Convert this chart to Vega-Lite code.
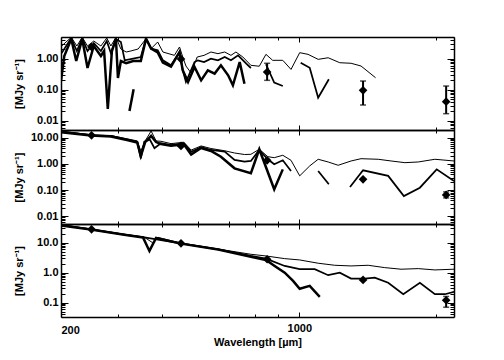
{
  "$schema": "https://vega.github.io/schema/vega-lite/v6.json",
  "padding": {"left": 12, "top": 36, "right": 50, "bottom": 4},
  "background": "white",
  "spacing": 0,
  "bounds": "flush",
  "datasets": {
    "top_lines": [
      {"series":"model","seg":"m1","w":301,"v":1.52},{"series":"model","seg":"m1","w":316,"v":4.64},{"series":"model","seg":"m1","w":325,"v":1.77},{"series":"model","seg":"m1","w":334,"v":4.64},{"series":"model","seg":"m1","w":343,"v":1.77},{"series":"model","seg":"m1","w":354,"v":3.2},{"series":"model","seg":"m1","w":367,"v":1.77},{"series":"model","seg":"m1","w":378,"v":3.71},{"series":"model","seg":"m1","w":386,"v":1.52},{"series":"model","seg":"m1","w":396,"v":4.31},{"series":"model","seg":"m1","w":406,"v":3.45},{"series":"model","seg":"m1","w":414,"v":0.885},{"series":"model","seg":"m1","w":432,"v":1.0},{"series":"model","seg":"m1","w":449,"v":1.13},{"series":"model","seg":"m1","w":461,"v":4.41},{"series":"model","seg":"m1","w":473,"v":2.1},{"series":"model","seg":"m1","w":489,"v":1.86},{"series":"model","seg":"m1","w":502,"v":0.885},{"series":"model","seg":"m1","w":523,"v":0.61},{"series":"model","seg":"m1","w":546,"v":1.64},{"series":"model","seg":"m1","w":555,"v":0.42},{"series":"model","seg":"m1","w":564,"v":0.177},{"series":"model","seg":"m1","w":589,"v":0.78},{"series":"model","seg":"m1","w":599,"v":0.885},{"series":"model","seg":"m1","w":618,"v":0.78},{"series":"model","seg":"m1","w":640,"v":1.0},{"series":"model","seg":"m1","w":663,"v":0.885},{"series":"model","seg":"m1","w":686,"v":1.13},{"series":"model","seg":"m1","w":708,"v":0.885},{"series":"model","seg":"m1","w":734,"v":1.28},{"series":"model","seg":"m1","w":765,"v":0.69},{"series":"model","seg":"m1","w":783,"v":0.5},
      {"series":"model","seg":"m2","w":845,"v":0.66},{"series":"model","seg":"m2","w":881,"v":0.168},{"series":"model","seg":"m2","w":920,"v":0.131},
      {"series":"model","seg":"m3","w":1007,"v":0.74},{"series":"model","seg":"m3","w":1054,"v":0.51},{"series":"model","seg":"m3","w":1100,"v":0.055},{"series":"model","seg":"m3","w":1161,"v":0.216},
      {"series":"upper","seg":"u1","w":301,"v":2.56},{"series":"upper","seg":"u1","w":316,"v":4.9},{"series":"upper","seg":"u1","w":325,"v":2.56},{"series":"upper","seg":"u1","w":334,"v":4.9},{"series":"upper","seg":"u1","w":343,"v":2.56},{"series":"upper","seg":"u1","w":354,"v":3.71},{"series":"upper","seg":"u1","w":367,"v":2.56},{"series":"upper","seg":"u1","w":378,"v":4.64},{"series":"upper","seg":"u1","w":386,"v":2.56},{"series":"upper","seg":"u1","w":396,"v":4.9},{"series":"upper","seg":"u1","w":406,"v":2.05},{"series":"upper","seg":"u1","w":417,"v":1.64},{"series":"upper","seg":"u1","w":427,"v":1.77},{"series":"upper","seg":"u1","w":443,"v":2.05},{"series":"upper","seg":"u1","w":461,"v":4.41},{"series":"upper","seg":"u1","w":473,"v":2.1},{"series":"upper","seg":"u1","w":489,"v":3.45},{"series":"upper","seg":"u1","w":502,"v":1.64},{"series":"upper","seg":"u1","w":532,"v":1.28},{"series":"upper","seg":"u1","w":546,"v":2.38},{"series":"upper","seg":"u1","w":555,"v":1.13},{"series":"upper","seg":"u1","w":564,"v":0.58},{"series":"upper","seg":"u1","w":579,"v":0.345},{"series":"upper","seg":"u1","w":597,"v":1.13},{"series":"upper","seg":"u1","w":618,"v":1.28},{"series":"upper","seg":"u1","w":640,"v":1.64},{"series":"upper","seg":"u1","w":663,"v":1.45},{"series":"upper","seg":"u1","w":686,"v":1.64},{"series":"upper","seg":"u1","w":708,"v":1.28},{"series":"upper","seg":"u1","w":726,"v":1.64},{"series":"upper","seg":"u1","w":752,"v":1.13},{"series":"upper","seg":"u1","w":783,"v":0.61},{"series":"upper","seg":"u1","w":817,"v":0.57},{"series":"upper","seg":"u1","w":845,"v":1.38},{"series":"upper","seg":"u1","w":874,"v":0.885},{"series":"upper","seg":"u1","w":920,"v":0.885},{"series":"upper","seg":"u1","w":959,"v":0.45},{"series":"upper","seg":"u1","w":1002,"v":1.56},{"series":"upper","seg":"u1","w":1045,"v":1.38},{"series":"upper","seg":"u1","w":1100,"v":0.95},{"series":"upper","seg":"u1","w":1157,"v":1.07},{"series":"upper","seg":"u1","w":1227,"v":0.74},{"series":"upper","seg":"u1","w":1299,"v":0.71},{"series":"upper","seg":"u1","w":1366,"v":0.58},{"series":"upper","seg":"u1","w":1470,"v":0.243},
      {"series":"lower","seg":"l1","w":300,"v":0.19},{"series":"lower","seg":"l1","w":305,"v":1.22},{"series":"lower","seg":"l1","w":316,"v":4.31},{"series":"lower","seg":"l1","w":324,"v":0.84},{"series":"lower","seg":"l1","w":334,"v":4.31},{"series":"lower","seg":"l1","w":343,"v":0.5},{"series":"lower","seg":"l1","w":354,"v":2.56},{"series":"lower","seg":"l1","w":367,"v":1.22},{"series":"lower","seg":"l1","w":373,"v":1.77},{"series":"lower","seg":"l1","w":380,"v":0.0238},{"series":"lower","seg":"l1","w":388,"v":1.77},{"series":"lower","seg":"l1","w":396,"v":4.31},{"series":"lower","seg":"l1","w":400,"v":0.238},{"series":"lower","seg":"l1","w":406,"v":0.84},{"series":"lower","seg":"l1","w":417,"v":0.72},{"series":"lower","seg":"l1","w":432,"v":0.84},{"series":"lower","seg":"l1","w":449,"v":0.84},{"series":"lower","seg":"l1","w":461,"v":4.41},{"series":"lower","seg":"l1","w":473,"v":2.1},{"series":"lower","seg":"l1","w":489,"v":1.6},{"series":"lower","seg":"l1","w":502,"v":0.75},{"series":"lower","seg":"l1","w":523,"v":0.55},{"series":"lower","seg":"l1","w":546,"v":1.64},{"series":"lower","seg":"l1","w":555,"v":0.42},{"series":"lower","seg":"l1","w":570,"v":0.177},{"series":"lower","seg":"l1","w":589,"v":0.54},{"series":"lower","seg":"l1","w":609,"v":0.2},{"series":"lower","seg":"l1","w":630,"v":0.42},{"series":"lower","seg":"l1","w":652,"v":0.33},{"series":"lower","seg":"l1","w":673,"v":0.61},{"series":"lower","seg":"l1","w":698,"v":0.29},{"series":"lower","seg":"l1","w":715,"v":0.138},{"series":"lower","seg":"l1","w":740,"v":0.78},{"series":"lower","seg":"l1","w":758,"v":0.156},
      {"series":"lower","seg":"l2","w":424,"v":0.0205},{"series":"lower","seg":"l2","w":433,"v":0.103}
    ],
    "top_pts": [
      {"w":350,"v":2.38},{"w":550,"v":0.97},{"w":850,"v":0.37,"lo":0.2,"hi":0.71},{"w":1380,"v":0.095,"lo":0.032,"hi":0.19},{"w":2100,"v":0.041,"lo":0.0168,"hi":0.131}
    ],
    "mid_lines": [
      {"series":"model","seg":"m1","w":300,"v":17.3},{"series":"model","seg":"m1","w":349,"v":12.8},{"series":"model","seg":"m1","w":360,"v":11.6},{"series":"model","seg":"m1","w":386,"v":11.8},{"series":"model","seg":"m1","w":421,"v":8.6},{"series":"model","seg":"m1","w":441,"v":7.1},{"series":"model","seg":"m1","w":449,"v":1.65},{"series":"model","seg":"m1","w":457,"v":7.1},{"series":"model","seg":"m1","w":470,"v":8.5},{"series":"model","seg":"m1","w":481,"v":4.0},{"series":"model","seg":"m1","w":497,"v":6.2},{"series":"model","seg":"m1","w":523,"v":5.3},{"series":"model","seg":"m1","w":558,"v":6.2},{"series":"model","seg":"m1","w":579,"v":2.9},{"series":"model","seg":"m1","w":609,"v":4.4},{"series":"model","seg":"m1","w":640,"v":3.43},{"series":"model","seg":"m1","w":686,"v":2.95},{"series":"model","seg":"m1","w":721,"v":1.42},{"series":"model","seg":"m1","w":758,"v":1.22},{"series":"model","seg":"m1","w":783,"v":1.3},{"series":"model","seg":"m1","w":817,"v":3.43},{"series":"model","seg":"m1","w":853,"v":1.51},{"series":"model","seg":"m1","w":881,"v":0.97},{"series":"model","seg":"m1","w":920,"v":1.38},{"series":"model","seg":"m1","w":959,"v":0.54},
      {"series":"model","seg":"m2","w":1100,"v":0.54},{"series":"model","seg":"m2","w":1161,"v":0.166},
      {"series":"model","seg":"m3","w":1292,"v":0.131},{"series":"model","seg":"m3","w":1380,"v":0.57},{"series":"model","seg":"m3","w":1567,"v":0.35},{"series":"model","seg":"m3","w":1696,"v":0.059},{"series":"model","seg":"m3","w":1839,"v":0.123},{"series":"model","seg":"m3","w":2002,"v":0.62},{"series":"model","seg":"m3","w":2185,"v":0.22},
      {"series":"upper","seg":"u1","w":300,"v":18},{"series":"upper","seg":"u1","w":349,"v":13.2},{"series":"upper","seg":"u1","w":386,"v":12.3},{"series":"upper","seg":"u1","w":421,"v":9.0},{"series":"upper","seg":"u1","w":441,"v":7.6},{"series":"upper","seg":"u1","w":449,"v":3.14},{"series":"upper","seg":"u1","w":459,"v":7.6},{"series":"upper","seg":"u1","w":473,"v":18.3},{"series":"upper","seg":"u1","w":485,"v":7.6},{"series":"upper","seg":"u1","w":497,"v":7.4},{"series":"upper","seg":"u1","w":523,"v":6.0},{"series":"upper","seg":"u1","w":558,"v":6.8},{"series":"upper","seg":"u1","w":579,"v":3.4},{"series":"upper","seg":"u1","w":609,"v":4.9},{"series":"upper","seg":"u1","w":640,"v":3.9},{"series":"upper","seg":"u1","w":686,"v":3.2},{"series":"upper","seg":"u1","w":721,"v":2.63},{"series":"upper","seg":"u1","w":758,"v":2.3},{"series":"upper","seg":"u1","w":783,"v":2.34},{"series":"upper","seg":"u1","w":817,"v":3.65},{"series":"upper","seg":"u1","w":853,"v":1.9},{"series":"upper","seg":"u1","w":881,"v":1.74},{"series":"upper","seg":"u1","w":920,"v":2.15},{"series":"upper","seg":"u1","w":959,"v":1.38},{"series":"upper","seg":"u1","w":1002,"v":0.35},{"series":"upper","seg":"u1","w":1054,"v":0.84},{"series":"upper","seg":"u1","w":1100,"v":1.51},{"series":"upper","seg":"u1","w":1157,"v":1.19},{"series":"upper","seg":"u1","w":1217,"v":0.89},{"series":"upper","seg":"u1","w":1299,"v":1.3},{"series":"upper","seg":"u1","w":1366,"v":1.59},{"series":"upper","seg":"u1","w":1490,"v":1.51},{"series":"upper","seg":"u1","w":1590,"v":1.3},{"series":"upper","seg":"u1","w":1705,"v":1.12},{"series":"upper","seg":"u1","w":1824,"v":1.19},{"series":"upper","seg":"u1","w":1984,"v":1.51},{"series":"upper","seg":"u1","w":2185,"v":1.3},
      {"series":"lower","seg":"l1","w":300,"v":16.4},{"series":"lower","seg":"l1","w":349,"v":12.2},{"series":"lower","seg":"l1","w":386,"v":11.2},{"series":"lower","seg":"l1","w":421,"v":8.0},{"series":"lower","seg":"l1","w":441,"v":6.6},{"series":"lower","seg":"l1","w":449,"v":2.02},{"series":"lower","seg":"l1","w":459,"v":6.9},{"series":"lower","seg":"l1","w":473,"v":11.8},{"series":"lower","seg":"l1","w":485,"v":6.9},{"series":"lower","seg":"l1","w":497,"v":5.8},{"series":"lower","seg":"l1","w":523,"v":5.0},{"series":"lower","seg":"l1","w":558,"v":5.7},{"series":"lower","seg":"l1","w":579,"v":2.3},{"series":"lower","seg":"l1","w":609,"v":4.1},{"series":"lower","seg":"l1","w":640,"v":3.14},{"series":"lower","seg":"l1","w":673,"v":1.9},{"series":"lower","seg":"l1","w":721,"v":0.68},{"series":"lower","seg":"l1","w":783,"v":0.44},{"series":"lower","seg":"l1","w":817,"v":3.65},{"series":"lower","seg":"l1","w":881,"v":0.107},{"series":"lower","seg":"l1","w":920,"v":0.62}
    ],
    "mid_pts": [
      {"w":350,"v":12.5},{"w":550,"v":4.9},{"w":850,"v":1.38},{"w":1380,"v":0.258},{"w":2100,"v":0.065,"lo":0.05,"hi":0.085}
    ],
    "bot_lines": [
      {"series":"model","seg":"m1","w":300,"v":38.9},{"series":"model","seg":"m1","w":349,"v":27.9},{"series":"model","seg":"m1","w":413,"v":18.7},{"series":"model","seg":"m1","w":457,"v":14.9},{"series":"model","seg":"m1","w":550,"v":9.5},{"series":"model","seg":"m1","w":664,"v":6.0},{"series":"model","seg":"m1","w":783,"v":3.6},{"series":"model","seg":"m1","w":845,"v":2.93},{"series":"model","seg":"m1","w":929,"v":1.67},{"series":"model","seg":"m1","w":1002,"v":1.3},{"series":"model","seg":"m1","w":1081,"v":1.3},{"series":"model","seg":"m1","w":1157,"v":0.82},{"series":"model","seg":"m1","w":1227,"v":1.0},{"series":"model","seg":"m1","w":1299,"v":0.63},{"series":"model","seg":"m1","w":1392,"v":0.63},{"series":"model","seg":"m1","w":1464,"v":0.68},{"series":"model","seg":"m1","w":1567,"v":0.46},{"series":"model","seg":"m1","w":1691,"v":0.19},{"series":"model","seg":"m1","w":1839,"v":0.46},{"series":"model","seg":"m1","w":1984,"v":0.19},{"series":"model","seg":"m1","w":2087,"v":0.19},{"series":"model","seg":"m1","w":2185,"v":0.23},
      {"series":"upper","seg":"u1","w":300,"v":40},{"series":"upper","seg":"u1","w":349,"v":28.5},{"series":"upper","seg":"u1","w":413,"v":19.1},{"series":"upper","seg":"u1","w":457,"v":15.2},{"series":"upper","seg":"u1","w":476,"v":10.1},{"series":"upper","seg":"u1","w":490,"v":14.9},{"series":"upper","seg":"u1","w":550,"v":9.7},{"series":"upper","seg":"u1","w":664,"v":6.1},{"series":"upper","seg":"u1","w":783,"v":4.1},{"series":"upper","seg":"u1","w":845,"v":3.6},{"series":"upper","seg":"u1","w":929,"v":2.93},{"series":"upper","seg":"u1","w":1002,"v":2.65},{"series":"upper","seg":"u1","w":1100,"v":2.06},{"series":"upper","seg":"u1","w":1196,"v":1.76},{"series":"upper","seg":"u1","w":1299,"v":1.67},{"series":"upper","seg":"u1","w":1416,"v":1.76},{"series":"upper","seg":"u1","w":1540,"v":1.47},{"series":"upper","seg":"u1","w":1672,"v":1.3},{"series":"upper","seg":"u1","w":1824,"v":1.36},{"series":"upper","seg":"u1","w":1984,"v":1.23},{"series":"upper","seg":"u1","w":2185,"v":1.3},
      {"series":"lower","seg":"l1","w":300,"v":37.4},{"series":"lower","seg":"l1","w":349,"v":27.3},{"series":"lower","seg":"l1","w":413,"v":18.3},{"series":"lower","seg":"l1","w":454,"v":14.9},{"series":"lower","seg":"l1","w":469,"v":5.3},{"series":"lower","seg":"l1","w":485,"v":14.3},{"series":"lower","seg":"l1","w":550,"v":9.3},{"series":"lower","seg":"l1","w":664,"v":5.9},{"series":"lower","seg":"l1","w":783,"v":3.4},{"series":"lower","seg":"l1","w":845,"v":2.65},{"series":"lower","seg":"l1","w":883,"v":1.67},{"series":"lower","seg":"l1","w":929,"v":1.0},{"series":"lower","seg":"l1","w":969,"v":0.53},{"series":"lower","seg":"l1","w":1002,"v":0.29},{"series":"lower","seg":"l1","w":1054,"v":0.36},{"series":"lower","seg":"l1","w":1109,"v":0.155}
    ],
    "bot_pts": [
      {"w":350,"v":27.9},{"w":550,"v":9.5},{"w":850,"v":2.8},{"w":1380,"v":0.57},{"w":2100,"v":0.12,"lo":0.07,"hi":0.16}
    ]
  },
  "vconcat": [
    {
      "width": 393, "height": 93,
      "layer": [
        {
          "data": {"name": "top_lines"},
          "mark": {"type": "line", "color": "black", "clip": true},
          "encoding": {
            "x": {"field": "w", "type": "quantitative", "scale": {"type": "log", "domain": [300, 2185], "nice": false},
                  "axis": {"orient": "bottom", "values": [400,500,600,700,800,900,1000,2000], "labels": false, "title": null,
                           "tickSize": {"condition": {"test": "datum.value == 1000", "value": -5}, "value": -3}}},
            "y": {"field": "v", "type": "quantitative", "scale": {"type": "log", "domain": [0.005, 5], "nice": false},
                  "axis": {"orient": "left", "values": [0.005,0.006,0.007,0.008,0.009,0.01,0.02,0.03,0.04,0.05,0.06,0.07,0.08,0.09,0.1,0.2,0.3,0.4,0.5,0.6,0.7,0.8,0.9,1,2,3,4,5],
                           "labelExpr": "abs(log(datum.value)/LN10 - round(log(datum.value)/LN10)) < 0.001 ? format(datum.value, '.2f') : ''",
                           "tickSize": {"condition": {"test": "abs(log(datum.value)/LN10 - round(log(datum.value)/LN10)) < 0.001", "value": -7}, "value": -4},
                           "title": "[MJy sr⁻¹]", "titleX": -42, "titleBaseline": "middle"}},
            "detail": {"field": "seg", "type": "nominal"},
            "strokeWidth": {"field": "series", "type": "nominal", "scale": {"domain": ["upper","model","lower"], "range": [1, 2.5, 1]}, "legend": null}
          }
        },
        {
          "data": {"name": "top_pts"},
          "mark": {"type": "point", "shape": "diamond", "filled": true, "color": "black", "size": 75, "opacity": 1},
          "encoding": {
            "x": {"field": "w", "type": "quantitative", "scale": {"type": "log", "domain": [300, 2185], "nice": false},
                  "axis": {"orient": "top", "values": [400,500,600,700,800,900,1000,2000], "labels": false, "title": null,
                           "tickSize": {"condition": {"test": "datum.value == 1000", "value": -5}, "value": -3}}},
            "y": {"field": "v", "type": "quantitative", "scale": {"type": "log", "domain": [0.005, 5], "nice": false},
                  "axis": {"orient": "right", "values": [0.005,0.006,0.007,0.008,0.009,0.01,0.02,0.03,0.04,0.05,0.06,0.07,0.08,0.09,0.1,0.2,0.3,0.4,0.5,0.6,0.7,0.8,0.9,1,2,3,4,5],
                           "labels": false, "title": null,
                           "tickSize": {"condition": {"test": "abs(log(datum.value)/LN10 - round(log(datum.value)/LN10)) < 0.001", "value": -7}, "value": -4}}}
          }
        },
        {
          "data": {"name": "top_pts"},
          "mark": {"type": "errorbar", "ticks": {"size": 6, "thickness": 1.5}, "thickness": 2, "color": "black"},
          "encoding": {
            "x": {"field": "w", "type": "quantitative", "scale": {"type": "log", "domain": [300, 2185], "nice": false}, "axis": null},
            "y": {"field": "lo", "type": "quantitative", "scale": {"type": "log", "domain": [0.005, 5], "nice": false}, "axis": null},
            "y2": {"field": "hi"}
          }
        }
      ],
      "resolve": {"axis": {"x": "independent", "y": "independent"}}
    },
    {
      "width": 393, "height": 94,
      "layer": [
        {
          "data": {"name": "mid_lines"},
          "mark": {"type": "line", "color": "black", "clip": true},
          "encoding": {
            "x": {"field": "w", "type": "quantitative", "scale": {"type": "log", "domain": [300, 2185], "nice": false},
                  "axis": {"orient": "bottom", "values": [400,500,600,700,800,900,1000,2000], "labels": false, "title": null,
                           "tickSize": {"condition": {"test": "datum.value == 1000", "value": -5}, "value": -3}}},
            "y": {"field": "v", "type": "quantitative", "scale": {"type": "log", "domain": [0.005, 20], "nice": false},
                  "axis": {"orient": "left", "values": [0.005,0.006,0.007,0.008,0.009,0.01,0.02,0.03,0.04,0.05,0.06,0.07,0.08,0.09,0.1,0.2,0.3,0.4,0.5,0.6,0.7,0.8,0.9,1,2,3,4,5,6,7,8,9,10,20],
                           "labelExpr": "abs(log(datum.value)/LN10 - round(log(datum.value)/LN10)) < 0.001 ? format(datum.value, '.2f') : ''",
                           "tickSize": {"condition": {"test": "abs(log(datum.value)/LN10 - round(log(datum.value)/LN10)) < 0.001", "value": -7}, "value": -4},
                           "title": "[MJy sr⁻¹]", "titleX": -42, "titleBaseline": "middle"}},
            "detail": {"field": "seg", "type": "nominal"},
            "strokeWidth": {"field": "series", "type": "nominal", "scale": {"domain": ["upper","model","lower"], "range": [1, 2.5, 1]}, "legend": null}
          }
        },
        {
          "data": {"name": "mid_pts"},
          "mark": {"type": "point", "shape": "diamond", "filled": true, "color": "black", "size": 75, "opacity": 1},
          "encoding": {
            "x": {"field": "w", "type": "quantitative", "scale": {"type": "log", "domain": [300, 2185], "nice": false},
                  "axis": {"orient": "top", "values": [400,500,600,700,800,900,1000,2000], "labels": false, "title": null,
                           "tickSize": {"condition": {"test": "datum.value == 1000", "value": -5}, "value": -3}}},
            "y": {"field": "v", "type": "quantitative", "scale": {"type": "log", "domain": [0.005, 20], "nice": false},
                  "axis": {"orient": "right", "values": [0.005,0.006,0.007,0.008,0.009,0.01,0.02,0.03,0.04,0.05,0.06,0.07,0.08,0.09,0.1,0.2,0.3,0.4,0.5,0.6,0.7,0.8,0.9,1,2,3,4,5,6,7,8,9,10,20],
                           "labels": false, "title": null,
                           "tickSize": {"condition": {"test": "abs(log(datum.value)/LN10 - round(log(datum.value)/LN10)) < 0.001", "value": -7}, "value": -4}}}
          }
        },
        {
          "data": {"name": "mid_pts"},
          "mark": {"type": "errorbar", "ticks": {"size": 6, "thickness": 1.5}, "thickness": 2, "color": "black"},
          "encoding": {
            "x": {"field": "w", "type": "quantitative", "scale": {"type": "log", "domain": [300, 2185], "nice": false}, "axis": null},
            "y": {"field": "lo", "type": "quantitative", "scale": {"type": "log", "domain": [0.005, 20], "nice": false}, "axis": null},
            "y2": {"field": "hi"}
          }
        }
      ],
      "resolve": {"axis": {"x": "independent", "y": "independent"}}
    },
    {
      "width": 393, "height": 93,
      "layer": [
        {
          "data": {"name": "bot_lines"},
          "mark": {"type": "line", "color": "black", "clip": true},
          "encoding": {
            "x": {"field": "w", "type": "quantitative", "scale": {"type": "log", "domain": [300, 2185], "nice": false},
                  "axis": {"orient": "bottom", "values": [300,400,500,600,700,800,900,1000,2000],
                           "labelExpr": "datum.value == 300 ? '200' : (datum.value == 1000 ? '1000' : '')",
                           "title": "Wavelength [µm]", "titlePadding": 1,
                           "tickSize": {"condition": {"test": "datum.value == 1000", "value": -5}, "value": -3}}},
            "y": {"field": "v", "type": "quantitative", "scale": {"type": "log", "domain": [0.033, 42], "nice": false},
                  "axis": {"orient": "left", "values": [0.04,0.05,0.06,0.07,0.08,0.09,0.1,0.2,0.3,0.4,0.5,0.6,0.7,0.8,0.9,1,2,3,4,5,6,7,8,9,10,20,30,40],
                           "labelExpr": "abs(log(datum.value)/LN10 - round(log(datum.value)/LN10)) < 0.001 ? format(datum.value, '.1f') : ''",
                           "tickSize": {"condition": {"test": "abs(log(datum.value)/LN10 - round(log(datum.value)/LN10)) < 0.001", "value": -7}, "value": -4},
                           "title": "[MJy sr⁻¹]", "titleX": -42, "titleBaseline": "middle"}},
            "detail": {"field": "seg", "type": "nominal"},
            "strokeWidth": {"field": "series", "type": "nominal", "scale": {"domain": ["upper","model","lower"], "range": [1, 2.5, 1]}, "legend": null}
          }
        },
        {
          "data": {"name": "bot_pts"},
          "mark": {"type": "point", "shape": "diamond", "filled": true, "color": "black", "size": 75, "opacity": 1},
          "encoding": {
            "x": {"field": "w", "type": "quantitative", "scale": {"type": "log", "domain": [300, 2185], "nice": false},
                  "axis": {"orient": "top", "values": [400,500,600,700,800,900,1000,2000], "labels": false, "title": null,
                           "tickSize": {"condition": {"test": "datum.value == 1000", "value": -5}, "value": -3}}},
            "y": {"field": "v", "type": "quantitative", "scale": {"type": "log", "domain": [0.033, 42], "nice": false},
                  "axis": {"orient": "right", "values": [0.04,0.05,0.06,0.07,0.08,0.09,0.1,0.2,0.3,0.4,0.5,0.6,0.7,0.8,0.9,1,2,3,4,5,6,7,8,9,10,20,30,40],
                           "labels": false, "title": null,
                           "tickSize": {"condition": {"test": "abs(log(datum.value)/LN10 - round(log(datum.value)/LN10)) < 0.001", "value": -7}, "value": -4}}}
          }
        },
        {
          "data": {"name": "bot_pts"},
          "mark": {"type": "errorbar", "ticks": {"size": 6, "thickness": 1.5}, "thickness": 2, "color": "black"},
          "encoding": {
            "x": {"field": "w", "type": "quantitative", "scale": {"type": "log", "domain": [300, 2185], "nice": false}, "axis": null},
            "y": {"field": "lo", "type": "quantitative", "scale": {"type": "log", "domain": [0.033, 42], "nice": false}, "axis": null},
            "y2": {"field": "hi"}
          }
        }
      ],
      "resolve": {"axis": {"x": "independent", "y": "independent"}}
    }
  ],
  "config": {
    "view": {"stroke": null},
    "axis": {
      "grid": false,
      "domainColor": "black", "domainWidth": 1.5,
      "tickColor": "black", "tickWidth": 1,
      "labelColor": "black", "labelFont": "Liberation Sans", "labelFontWeight": "bold", "labelFontSize": 11,
      "labelPadding": 10,
      "titleColor": "black", "titleFont": "Liberation Sans", "titleFontWeight": "bold", "titleFontSize": 11
    }
  }
}
